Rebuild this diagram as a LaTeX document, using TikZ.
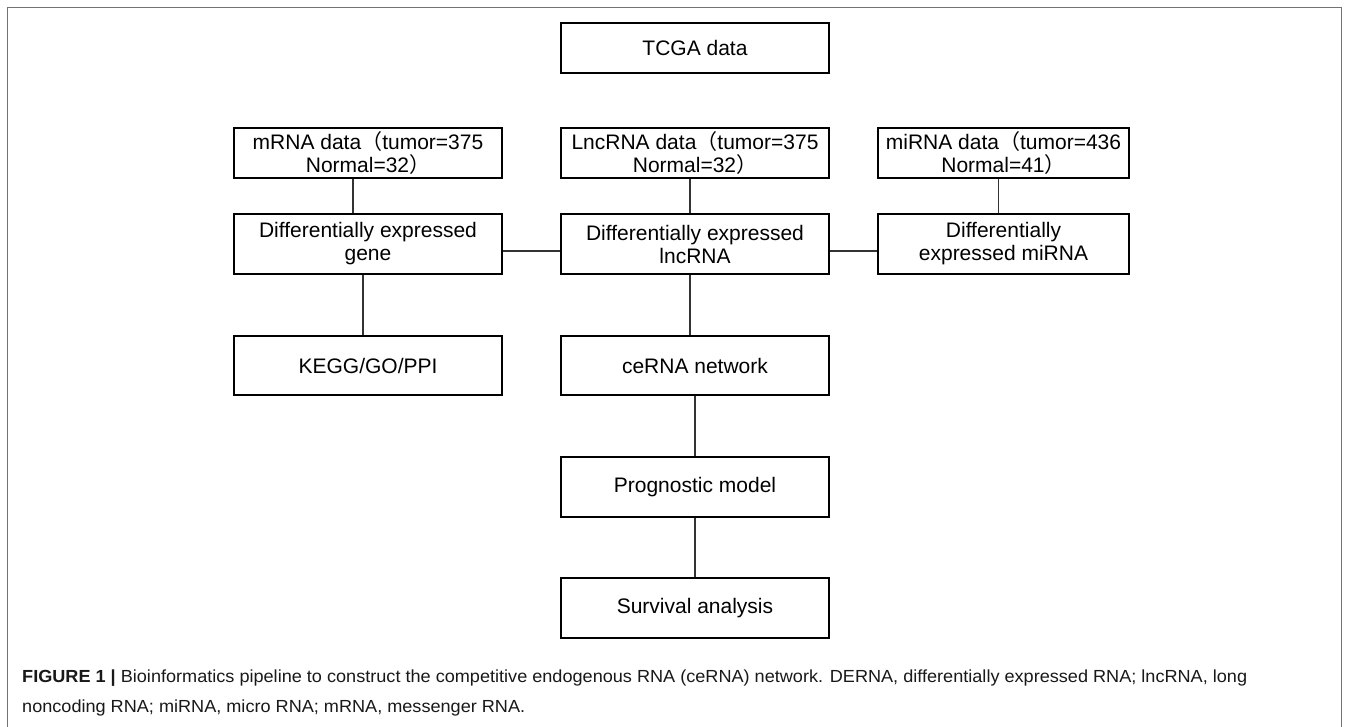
\documentclass[tikz,border=0pt]{standalone}
\usepackage{fontspec}
\setmainfont{Liberation Sans}
\newfontfamily\cjk{Noto Sans CJK SC}
\usepackage{graphicx}
\begin{document}
\begin{tikzpicture}[x=1pt,y=-1pt,
  box/.style={draw=black, line width=1.4pt, minimum width=268pt, minimum height=50pt,
    align=center, font=\fontsize{21}{23}\selectfont, inner sep=0pt},
  link/.style={draw=black!80, line width=1.3pt},
  frame/.style={draw=black!55, line width=1pt}]
\useasboundingbox (0,0) rectangle (1354,726);
\fill[white] (0,0) rectangle (1354,726);
\clip (0,0) rectangle (1354,726);
\draw[frame] (7,740) -- (7,7) -- (1341,7) -- (1341,740);

\node[box, minimum height=50pt] (tcga) at (695,48) {TCGA data};
\node[box] (mrna) at (368,153) {mRNA data{\cjk （}tumor=375\\Normal=32{\cjk ）}};
\node[box] (lnc) at (695,153) {LncRNA data{\cjk （}tumor=375\\Normal=32{\cjk ）}};
\node[box, minimum width=251pt] (mi) at (1003.5,153) {miRNA data{\cjk （}tumor=436\\Normal=41{\cjk ）}};

\node[box, minimum height=60pt] (degene) at (368,244) {Differentially expressed\\gene};
\node[box, minimum height=60pt] (delnc) at (695,244) {Differentially expressed\\lncRNA};
\node[box, minimum height=60pt, minimum width=251pt] (demi) at (1003.5,244) {Differentially\\expressed miRNA};

\node[box, minimum height=59pt] (kegg) at (368,365.5) {KEGG/GO/PPI};
\node[box, minimum height=59pt] (cerna) at (695,365.5) {ceRNA network};
\node[box, minimum height=60pt] (prog) at (695,487) {Prognostic model};
\node[box, minimum height=60pt] (surv) at (695,608) {Survival analysis};

\draw[link] ([xshift=-15pt]mrna.south) -- ([xshift=-15pt]degene.north);
\draw[link] ([xshift=-5pt]lnc.south) -- ([xshift=-5pt]delnc.north);
\draw[link] ([xshift=-5pt]mi.south) -- ([xshift=-5pt]demi.north);
\draw[link] ([yshift=-7pt]degene.east) -- ([yshift=-7pt]delnc.west);
\draw[link] ([yshift=-7pt]delnc.east) -- ([yshift=-7pt]demi.west);
\draw[link] ([xshift=-5pt]degene.south) -- ([xshift=-5pt]kegg.north);
\draw[link] ([xshift=-5pt]delnc.south) -- ([xshift=-5pt]cerna.north);
\draw[link] (cerna.south) -- (prog.north);
\draw[link] (prog.south) -- (surv.north);

\node[anchor=west, inner sep=0pt, text=black!90] (cap1) at (22,678)
  {\resizebox{1225pt}{\height}{\fontsize{17.5}{20}\selectfont\textbf{FIGURE 1 |} Bioinformatics pipeline to construct the competitive endogenous RNA (ceRNA) network. DERNA, differentially expressed RNA; lncRNA, long}};
\node[anchor=west, inner sep=0pt, text=black!90] (cap2) at (22,708)
  {\resizebox{503pt}{\height}{\fontsize{17.5}{20}\selectfont noncoding RNA; miRNA, micro RNA; mRNA, messenger RNA.}};
\end{tikzpicture}
\end{document}
